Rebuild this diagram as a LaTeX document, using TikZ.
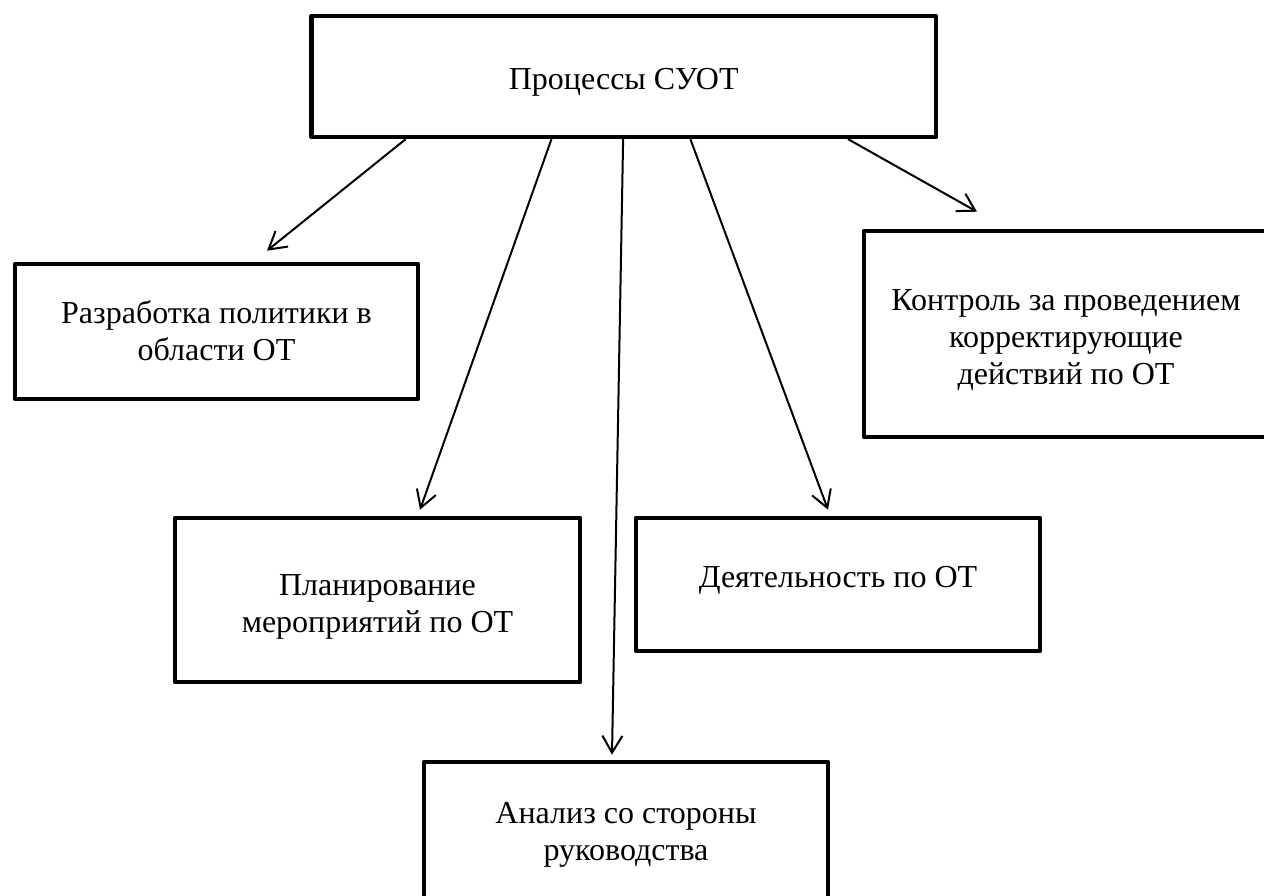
\documentclass[tikz,border=0pt]{standalone}
\usepackage{fontspec}
\setmainfont{Liberation Serif}
\usetikzlibrary{arrows.meta,calc}
% fixed first-line height and last-line depth, so each text sits at a known height
\newcommand{\firstline}[1]{\rule{0pt}{#1}}
\newcommand{\lastline}[1]{\rule[-#1]{0pt}{#1}}
\begin{document}
\begin{tikzpicture}[x=0.5pt,y=-0.5pt,
  box/.style={draw, line width=2.3pt, line join=round, align=center,
    inner sep=0pt, font=\fontsize{16}{18.5}\selectfont},
  link/.style={line width=1pt, line cap=round,
    -{Straight Barb[length=8.5pt,width=10pt,line width=1pt]}}]
\useasboundingbox (0,0) rectangle (1264,895);
\clip (0,0) rectangle (1264,895);

% process boxes
\node[box, minimum width=312.25pt, minimum height=60.5pt] (top) at (623.75,76.5)
  {\firstline{17.5pt}Процессы СУОТ\lastline{5pt}};
\node[box, minimum width=201.5pt, minimum height=67.5pt] (razr) at (216.5,331.5)
  {\firstline{15pt}Разработка политики в\\области ОТ\lastline{5pt}};
\node[box, minimum width=202pt, minimum height=103pt] (kontrol) at (1066,334)
  {\firstline{18pt}Контроль за проведением\\корректирующие\\действий по ОТ\lastline{5pt}};
\node[box, minimum width=202.5pt, minimum height=82pt] (plan) at (377.5,600)
  {\firstline{18.5pt}Планирование\\мероприятий по ОТ\lastline{5pt}};
\node[box, minimum width=202pt, minimum height=66.5pt] (deyat) at (838,584.5)
  {\firstline{12.5pt}Деятельность по ОТ\lastline{10pt}};
\node[box, minimum width=202pt, minimum height=71pt] (analiz) at (626,833)
  {\firstline{13.5pt}Анализ со стороны\\руководства\lastline{5pt}};

% connectors from the top box
\draw[link] ($(top.south west)!0.153!(top.south east)$) -- ($(razr.north)+(50.5,-11)$);
\draw[link] ($(top.south west)!0.385!(top.south east)$) -- ($(plan.north)+(42.5,-6)$);
\draw[link] ($(top.south west)!0.499!(top.south east)$) -- ($(analiz.north)+(-14,-5)$);
\draw[link] ($(top.south west)!0.606!(top.south east)$) -- ($(deyat.north)+(-10,-6)$);
\draw[link] ($(top.south west)!0.857!(top.south east)$) -- ($(kontrol.north)+(-89,-17)$);
\end{tikzpicture}
\end{document}
